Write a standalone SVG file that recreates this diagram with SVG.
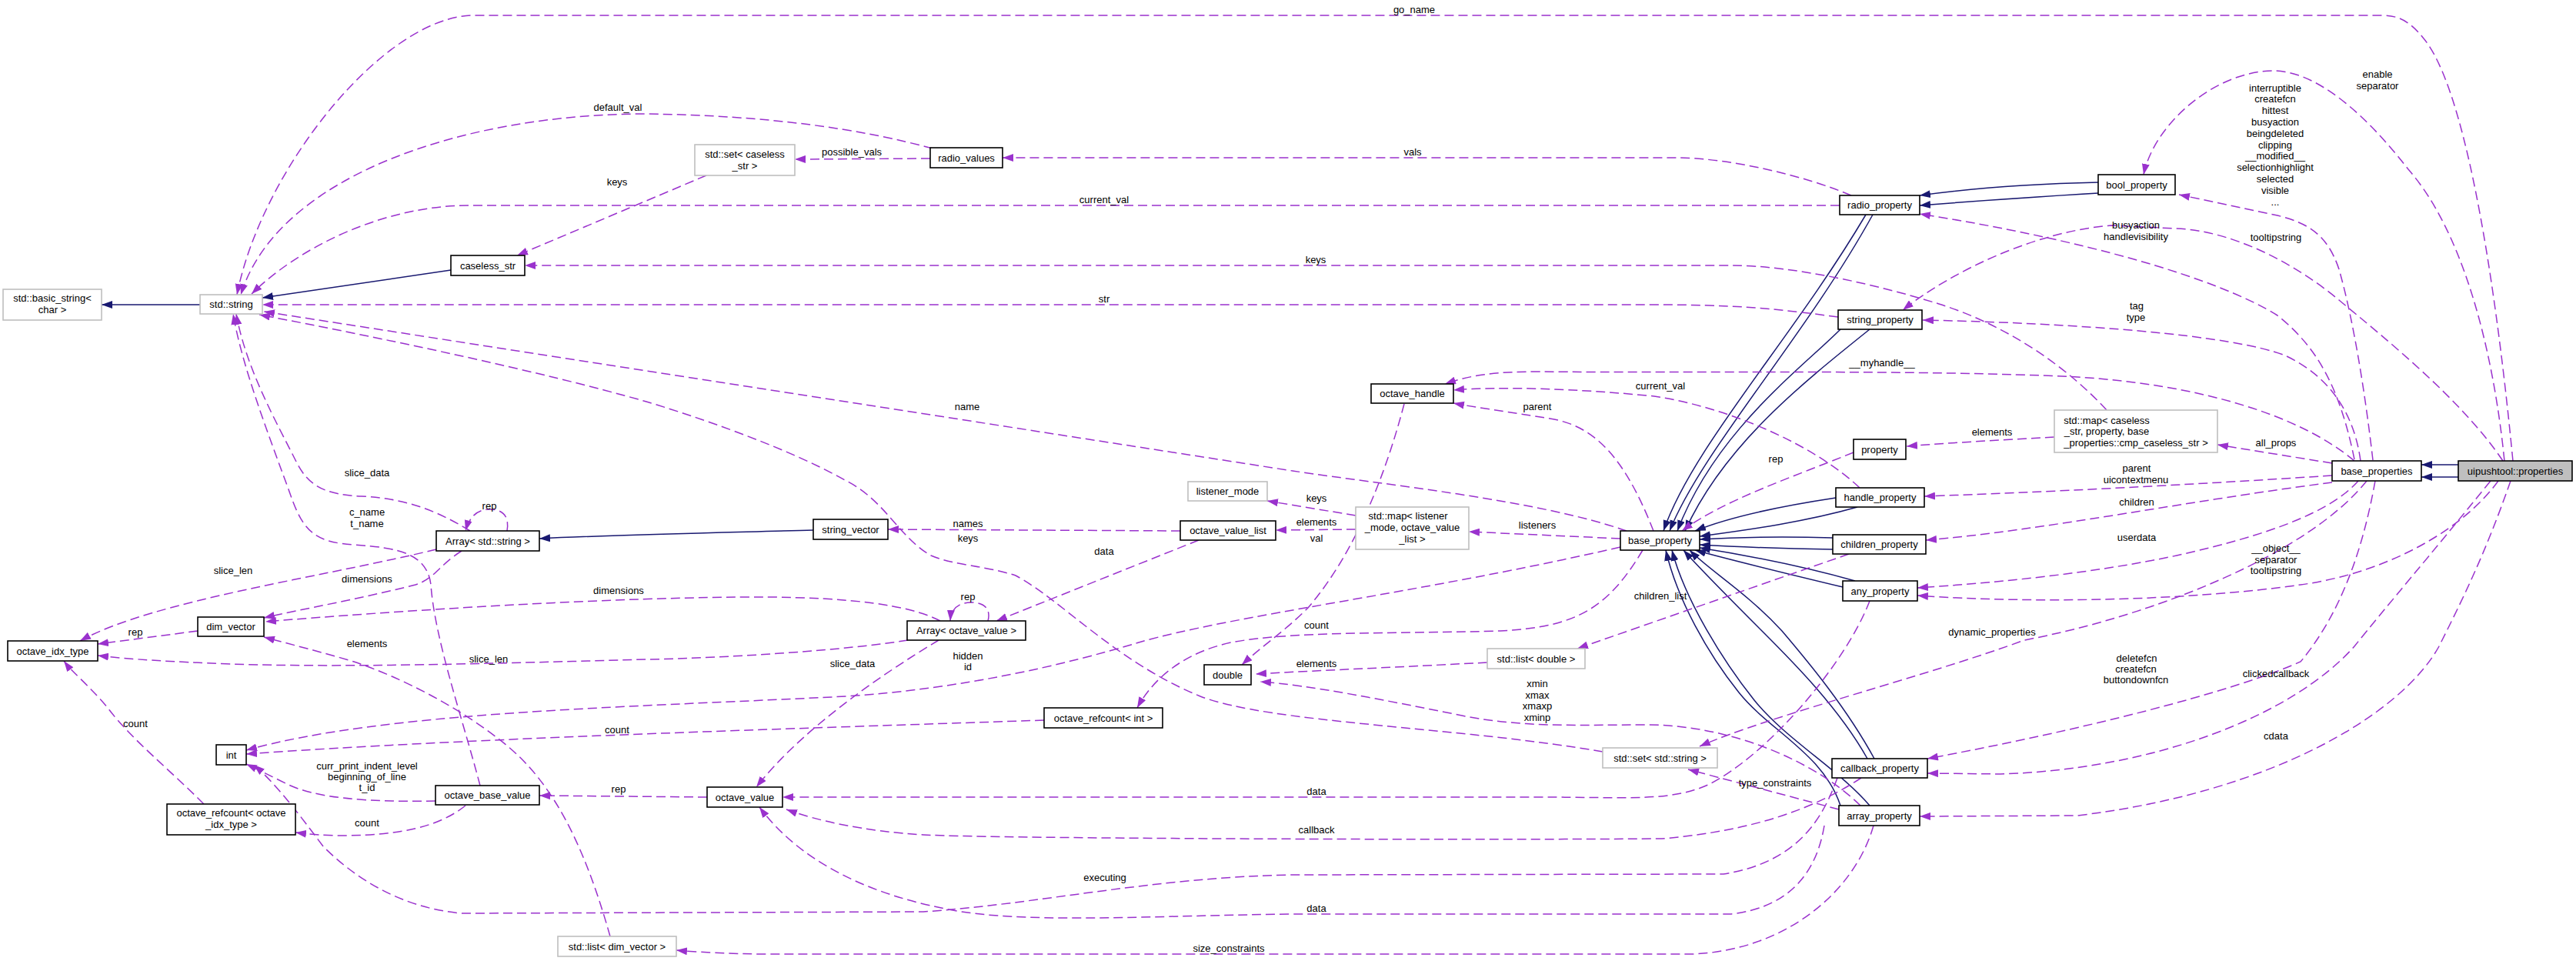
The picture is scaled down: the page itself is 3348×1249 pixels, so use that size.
<svg xmlns="http://www.w3.org/2000/svg" width="3348" height="1249" viewBox="0 0 3348 1249">
<style>
text{font-family:"Liberation Sans",Arial,Helvetica,sans-serif;font-size:13px;fill:#000;text-anchor:middle}
.b{fill:#fff;stroke:#000;stroke-width:1.6}
.g{fill:#fff;stroke:#bfbfbf;stroke-width:1.6}
.f{fill:#bfbfbf;stroke:#000;stroke-width:1.6}
.i{fill:none;stroke:#191970;stroke-width:1.5;marker-end:url(#an)}
.d{fill:none;stroke:#9a32cd;stroke-width:1.5;stroke-dasharray:12,6;marker-end:url(#ap)}
</style>
<defs>
<marker id="an" viewBox="0 0 14 10" refX="14" refY="5" markerUnits="userSpaceOnUse" markerWidth="14" markerHeight="10" orient="auto"><path d="M0,0L14,5L0,10z" fill="#191970"/></marker>
<marker id="ap" viewBox="0 0 14 10" refX="14" refY="5" markerUnits="userSpaceOnUse" markerWidth="14" markerHeight="10" orient="auto"><path d="M0,0L14,5L0,10z" fill="#9a32cd"/></marker>
</defs>
<rect width="3348" height="1249" fill="#fff"/>
<g id="edges">
<path class="i" d="M260,396L132,396"/>
<path class="i" d="M586,351L341,387"/>
<path class="i" d="M1057,689C950,692 800,695 701,700"/>
<path class="i" d="M2727,237C2640,239 2560,245 2495,254"/>
<path class="i" d="M2727,251C2640,256 2560,262 2495,267"/>
<path class="i" d="M2425,279C2330,440 2200,580 2162,690"/>
<path class="i" d="M2434,279C2345,440 2212,585 2170,690"/>
<path class="i" d="M2392,428C2340,480 2230,560 2180,690"/>
<path class="i" d="M2430,428C2340,500 2240,580 2190,690"/>
<path class="i" d="M2386,647C2300,660 2240,675 2203,690"/>
<path class="i" d="M2414,659C2340,680 2260,690 2209,697"/>
<path class="i" d="M2382,699C2320,697 2260,698 2209,701"/>
<path class="i" d="M2382,714C2320,713 2260,711 2209,708"/>
<path class="i" d="M2411,755C2340,735 2260,720 2209,712"/>
<path class="i" d="M2395,763C2320,745 2250,728 2203,715"/>
<path class="i" d="M2427,986C2390,920 2330,860 2290,820C2250,780 2210,740 2188,715"/>
<path class="i" d="M2436,986C2400,920 2350,860 2316,820C2270,770 2220,740 2196,715"/>
<path class="i" d="M2392,1047C2370,980 2300,950 2260,900C2220,850 2180,780 2165,715"/>
<path class="i" d="M2430,1047C2390,1000 2320,960 2280,910C2240,860 2190,780 2173,715"/>
<path class="i" d="M3195,604L3147,604"/>
<path class="i" d="M3195,620L3147,620"/>
<path class="d" d="M3266,599C3240,330 3200,110 3150,50C3130,25 3115,20 3095,20L616,20C500,20 340,220 308,383"/>
<path class="d" d="M3255,599C3240,450 3200,300 3130,220C3060,130 3000,92 2955,92C2880,92 2800,160 2786,227"/>
<path class="d" d="M1212,193C1120,168 1000,150 840,148C600,148 360,230 313,383"/>
<path class="d" d="M2391,267L610,267C500,267 390,320 327,382"/>
<path class="d" d="M918,228L672,332"/>
<path class="d" d="M2738,533C2680,470 2600,420 2520,395C2440,370 2330,345 2250,345L682,345"/>
<path class="d" d="M2389,412C2300,400 2250,396 2150,396L341,396"/>
<path class="d" d="M2114,690C2000,650 1800,630 1680,612L343,405"/>
<path class="d" d="M2083,977C1900,945 1650,940 1560,905C1450,860 1380,780 1320,748C1280,735 1240,735 1210,722C1170,700 1150,650 1100,625C1020,580 900,540 840,522C700,482 500,440 337,409"/>
<path class="d" d="M611,690C570,665 530,648 470,645C420,643 400,630 385,600C360,550 320,480 307,408"/>
<path class="d" d="M624,1021C600,930 565,830 560,760C555,720 520,712 460,708C410,705 395,690 380,650C355,580 315,480 303,408"/>
<path class="d" d="M659,690C662,672 655,662 636,662C620,662 610,672 605,690"/>
<path class="d" d="M600,716C570,735 565,752 540,760C460,780 400,790 343,803"/>
<path class="d" d="M567,714C420,750 200,780 104,833"/>
<path class="d" d="M1222,807C1180,785 1100,777 1000,776C800,775 500,795 345,808"/>
<path class="d" d="M1284,807C1288,792 1280,783 1262,783C1245,783 1236,792 1235,807"/>
<path class="d" d="M1558,702L1295,807"/>
<path class="d" d="M1534,690L1154,688"/>
<path class="d" d="M1762,670L1647,651"/>
<path class="d" d="M1762,688L1658,689"/>
<path class="d" d="M1825,525C1800,620 1760,720 1700,790C1670,820 1640,840 1614,864"/>
<path class="d" d="M3060,599C2990,540 2860,500 2700,490C2500,480 2200,485 2000,483C1940,483 1910,488 1878,499"/>
<path class="d" d="M2417,634C2360,580 2250,530 2150,515C2050,505 1950,502 1889,507"/>
<path class="d" d="M2149,690C2110,590 2070,555 2020,545C1960,535 1920,530 1889,524"/>
<path class="d" d="M2409,588C2330,620 2240,650 2186,690"/>
<path class="d" d="M2106,700L1909,691"/>
<path class="d" d="M2106,711C1850,770 1600,800 1480,835C1380,865 1250,895 1100,905C800,920 500,925 320,975"/>
<path class="d" d="M2135,715C2090,790 2050,815 1950,820C1800,824 1680,820 1600,835C1540,848 1500,880 1478,920"/>
<path class="d" d="M1357,936C1000,948 600,960 320,980"/>
<path class="d" d="M566,1041C470,1043 410,1036 375,1020C355,1010 335,1000 320,993"/>
<path class="d" d="M605,1047C570,1075 520,1085 450,1086C420,1086 400,1084 384,1082"/>
<path class="d" d="M265,1045C220,1000 170,960 140,920C115,890 95,875 83,859"/>
<path class="d" d="M919,1036L701,1034"/>
<path class="d" d="M257,820L127,837"/>
<path class="d" d="M1180,832C1100,845 950,855 840,857C650,862 450,868 300,863C220,860 170,857 127,852"/>
<path class="d" d="M793,1217C760,1100 720,1020 660,970C600,920 520,880 460,860C420,848 380,838 343,828"/>
<path class="d" d="M1220,832C1140,880 1040,950 983,1023"/>
<path class="d" d="M2430,781C2400,860 2300,980 2220,1020C2170,1042 2120,1036 2000,1036L1017,1036"/>
<path class="d" d="M2419,1011C2360,1050 2280,1080 2160,1090C1900,1092 1300,1090 1200,1085C1120,1080 1060,1066 1022,1052"/>
<path class="d" d="M2388,1011C2370,1060 2340,1120 2240,1136L1680,1137C1500,1140 1350,1175 1200,1185L600,1187C520,1180 460,1140 420,1100C390,1060 360,1020 330,994"/>
<path class="d" d="M2371,1073C2360,1140 2320,1180 2250,1188L1680,1188C1500,1190 1350,1200 1250,1185C1130,1165 1040,1120 987,1049"/>
<path class="d" d="M2435,1073C2410,1160 2320,1235 2200,1240L1000,1240C950,1240 900,1237 879,1235"/>
<path class="d" d="M2390,1052L2194,1000"/>
<path class="d" d="M2418,1047C2360,990 2250,942 2140,942C2050,942 1980,946 1900,930C1800,910 1700,890 1638,886"/>
<path class="d" d="M1933,861C1800,868 1700,872 1632,876"/>
<path class="d" d="M2403,720L2050,843"/>
<path class="d" d="M3076,625C3000,720 2800,800 2631,832C2500,880 2300,930 2209,970"/>
<path class="d" d="M3087,625C3070,720 3040,800 2990,860C2900,900 2700,950 2505,986"/>
<path class="d" d="M3237,625C3160,720 3100,790 3060,840C2980,930 2800,1000 2600,1006L2505,1005"/>
<path class="d" d="M3263,625C3230,720 3200,780 3170,840C3120,930 2950,1030 2700,1060L2495,1061"/>
<path class="d" d="M3247,625C3200,690 3100,745 2990,760C2850,780 2650,785 2492,774"/>
<path class="d" d="M3065,625C3030,665 2950,695 2829,722C2720,745 2600,757 2492,764"/>
<path class="d" d="M3031,627C2850,650 2650,690 2503,702"/>
<path class="d" d="M3031,618C2850,630 2650,640 2501,645"/>
<path class="d" d="M3031,602L2882,578"/>
<path class="d" d="M2670,568C2600,572 2540,575 2478,580"/>
<path class="d" d="M3068,599C3060,540 3030,490 2970,462C2900,435 2700,420 2499,416"/>
<path class="d" d="M3253,599C3200,520 3100,440 3040,390C2980,340 2900,300 2829,297L2744,293C2650,300 2540,350 2473,403"/>
<path class="d" d="M3060,597C3040,500 3010,450 2960,410C2880,360 2700,310 2495,278"/>
<path class="d" d="M3084,598C3075,520 3060,420 3040,350C3025,305 3000,290 2960,280L2832,253"/>
<path class="d" d="M1209,206L1033,207"/>
<path class="d" d="M2406,254C2350,230 2250,205 2178,205L1303,205"/>
<text x="1838" y="17">go_name</text>
<text x="803" y="143.5">default_val</text>
<text x="802" y="240.5">keys</text>
<text x="1107" y="201.5">possible_vals</text>
<text x="1836" y="201.5">vals</text>
<text x="1435" y="263.5">current_val</text>
<text x="1710" y="341.5">keys</text>
<text x="1435" y="392.5">str</text>
<text x="3090" y="100.5">enable</text>
<text x="3090" y="115.5">separator</text>
<text x="2957" y="118.5">interruptible</text>
<text x="2957" y="133.3">createfcn</text>
<text x="2957" y="148.1">hittest</text>
<text x="2957" y="162.9">busyaction</text>
<text x="2957" y="177.7">beingdeleted</text>
<text x="2957" y="192.5">clipping</text>
<text x="2957" y="207.3">__modified__</text>
<text x="2957" y="222.1">selectionhighlight</text>
<text x="2957" y="236.9">selected</text>
<text x="2957" y="251.7">visible</text>
<text x="2957" y="266.5">...</text>
<text x="2776" y="296.5">busyaction</text>
<text x="2776" y="311.5">handlevisibility</text>
<text x="2958" y="312.5">tooltipstring</text>
<text x="2777" y="401.5">tag</text>
<text x="2776" y="416.5">type</text>
<text x="2446" y="475.5">__myhandle__</text>
<text x="2158" y="505.5">current_val</text>
<text x="1998" y="532.5">parent</text>
<text x="1257" y="532.5">name</text>
<text x="477" y="618.5">slice_data</text>
<text x="477" y="669.5">c_name</text>
<text x="477" y="684.5">t_name</text>
<text x="636" y="661.5">rep</text>
<text x="2308" y="600.5">rep</text>
<text x="1711" y="651.5">keys</text>
<text x="1711" y="682.5">elements</text>
<text x="1711" y="703.5">val</text>
<text x="1258" y="684.5">names</text>
<text x="1258" y="703.5">keys</text>
<text x="1998" y="686.5">listeners</text>
<text x="1435" y="720.5">data</text>
<text x="303" y="745.5">slice_len</text>
<text x="477" y="756.5">dimensions</text>
<text x="804" y="771.5">dimensions</text>
<text x="1258" y="779.5">rep</text>
<text x="2158" y="778.5">children_list</text>
<text x="1711" y="816.5">count</text>
<text x="176" y="825.5">rep</text>
<text x="2589" y="565.5">elements</text>
<text x="2958" y="579.5">all_props</text>
<text x="2777" y="612.5">parent</text>
<text x="2776" y="627.5">uicontextmenu</text>
<text x="2777" y="656.5">children</text>
<text x="2777" y="702.5">userdata</text>
<text x="2958" y="716.5">__object__</text>
<text x="2958" y="731.5">separator</text>
<text x="2958" y="745.5">tooltipstring</text>
<text x="2589" y="825.5">dynamic_properties</text>
<text x="477" y="840.5">elements</text>
<text x="635" y="860.5">slice_len</text>
<text x="1258" y="856.5">hidden</text>
<text x="1258" y="870.5">id</text>
<text x="1108" y="866.5">slice_data</text>
<text x="1711" y="866.5">elements</text>
<text x="1998" y="892.5">xmin</text>
<text x="1998" y="907.5">xmax</text>
<text x="1998" y="921.5">xmaxp</text>
<text x="1998" y="936.5">xminp</text>
<text x="2777" y="859.5">deletefcn</text>
<text x="2776" y="873.5">createfcn</text>
<text x="2776" y="887.5">buttondownfcn</text>
<text x="2958" y="879.5">clickedcallback</text>
<text x="176" y="944.5">count</text>
<text x="802" y="952.5">count</text>
<text x="2958" y="960.5">cdata</text>
<text x="477" y="999.5">curr_print_indent_level</text>
<text x="477" y="1013.5">beginning_of_line</text>
<text x="477" y="1027.5">t_id</text>
<text x="804" y="1029.5">rep</text>
<text x="1711" y="1032.5">data</text>
<text x="2307" y="1021.5">type_constraints</text>
<text x="477" y="1073.5">count</text>
<text x="1711" y="1082.5">callback</text>
<text x="1436" y="1144.5">executing</text>
<text x="1711" y="1184.5">data</text>
<text x="1597" y="1236.5">size_constraints</text>
</g>
<g id="n_basic_string"><rect class="g" x="4" y="376" width="128" height="40"/><text x="68" y="392">std::basic_string&lt;</text><text x="68" y="407">char &gt;</text></g>
<g id="n_std_string"><rect class="g" x="260" y="383" width="81" height="25"/><text x="300.5" y="400">std::string</text></g>
<g id="n_caseless_str"><rect class="b" x="586" y="332" width="96" height="26"/><text x="634" y="349.5">caseless_str</text></g>
<g id="n_set_caseless"><rect class="g" x="903" y="188" width="130" height="40"/><text x="968" y="204.5">std::set&lt; caseless</text><text x="968" y="219.5">_str &gt;</text></g>
<g id="n_radio_values"><rect class="b" x="1209" y="192" width="94" height="26"/><text x="1256" y="209.5">radio_values</text></g>
<g id="n_radio_property"><rect class="b" x="2391" y="254" width="104" height="25"/><text x="2443" y="271">radio_property</text></g>
<g id="n_bool_property"><rect class="b" x="2727" y="227" width="100" height="26"/><text x="2777" y="244.5">bool_property</text></g>
<g id="n_string_property"><rect class="b" x="2389" y="403" width="109" height="25"/><text x="2443.5" y="420">string_property</text></g>
<g id="n_octave_handle"><rect class="b" x="1782" y="499" width="107" height="25"/><text x="1835.5" y="516">octave_handle</text></g>
<g id="n_listener_mode"><rect class="g" x="1544" y="626" width="103" height="25"/><text x="1595.5" y="643">listener_mode</text></g>
<g id="n_map_listener"><rect class="g" x="1762" y="659" width="147" height="55"/><text x="1830" y="675">std::map&lt; listener</text><text x="1835.5" y="690">_mode, octave_value</text><text x="1835.5" y="705">_list &gt;</text></g>
<g id="n_base_property"><rect class="b" x="2106" y="690" width="103" height="25"/><text x="2157.5" y="707">base_property</text></g>
<g id="n_property"><rect class="b" x="2409" y="571" width="68" height="26"/><text x="2443" y="588.5">property</text></g>
<g id="n_handle_property"><rect class="b" x="2386" y="634" width="115" height="25"/><text x="2443.5" y="651">handle_property</text></g>
<g id="n_children_property"><rect class="b" x="2382" y="695" width="121" height="25"/><text x="2442.5" y="712">children_property</text></g>
<g id="n_any_property"><rect class="b" x="2395" y="755" width="97" height="26"/><text x="2443.5" y="772.5">any_property</text></g>
<g id="n_map_caseless"><rect class="g" x="2670" y="533" width="212" height="55"/><text x="2738" y="550.5">std::map&lt; caseless</text><text x="2738" y="565">_str, property, base</text><text x="2776" y="579.5">_properties::cmp_caseless_str &gt;</text></g>
<g id="n_base_properties"><rect class="b" x="3031" y="599" width="116" height="26"/><text x="3089" y="616.5">base_properties</text></g>
<g id="n_uipushtool_properties"><rect class="f" x="3195" y="599" width="148" height="26"/><text x="3269" y="616.5">uipushtool::properties</text></g>
<g id="n_string_vector"><rect class="b" x="1057" y="675" width="97" height="26"/><text x="1105.5" y="692.5">string_vector</text></g>
<g id="n_octave_value_list"><rect class="b" x="1534" y="677" width="124" height="25"/><text x="1596" y="694">octave_value_list</text></g>
<g id="n_array_string"><rect class="b" x="567" y="690" width="134" height="26"/><text x="634" y="707.5">Array&lt; std::string &gt;</text></g>
<g id="n_array_octave_value"><rect class="b" x="1179" y="807" width="154" height="25"/><text x="1256" y="824">Array&lt; octave_value &gt;</text></g>
<g id="n_dim_vector"><rect class="b" x="257" y="802" width="86" height="25"/><text x="300" y="819">dim_vector</text></g>
<g id="n_octave_idx_type"><rect class="b" x="10" y="833" width="117" height="26"/><text x="68.5" y="850.5">octave_idx_type</text></g>
<g id="n_int"><rect class="b" x="281" y="968" width="39" height="26"/><text x="300.5" y="985.5">int</text></g>
<g id="n_refcount_idx"><rect class="b" x="217" y="1045" width="167" height="40"/><text x="300.5" y="1061">octave_refcount&lt; octave</text><text x="300.5" y="1076">_idx_type &gt;</text></g>
<g id="n_octave_base_value"><rect class="b" x="566" y="1021" width="135" height="25"/><text x="633.5" y="1038">octave_base_value</text></g>
<g id="n_list_dim_vector"><rect class="g" x="725" y="1217" width="154" height="26"/><text x="802" y="1234.5">std::list&lt; dim_vector &gt;</text></g>
<g id="n_octave_value"><rect class="b" x="919" y="1023" width="98" height="26"/><text x="968" y="1040.5">octave_value</text></g>
<g id="n_refcount_int"><rect class="b" x="1357" y="920" width="154" height="26"/><text x="1434" y="937.5">octave_refcount&lt; int &gt;</text></g>
<g id="n_double"><rect class="b" x="1565" y="864" width="61" height="26"/><text x="1595.5" y="881.5">double</text></g>
<g id="n_list_double"><rect class="g" x="1933" y="843" width="127" height="26"/><text x="1996.5" y="860.5">std::list&lt; double &gt;</text></g>
<g id="n_set_string"><rect class="g" x="2083" y="972" width="149" height="26"/><text x="2157.5" y="989.5">std::set&lt; std::string &gt;</text></g>
<g id="n_callback_property"><rect class="b" x="2381" y="986" width="124" height="25"/><text x="2443" y="1003">callback_property</text></g>
<g id="n_array_property"><rect class="b" x="2390" y="1047" width="105" height="26"/><text x="2442.5" y="1064.5">array_property</text></g>
</svg>
